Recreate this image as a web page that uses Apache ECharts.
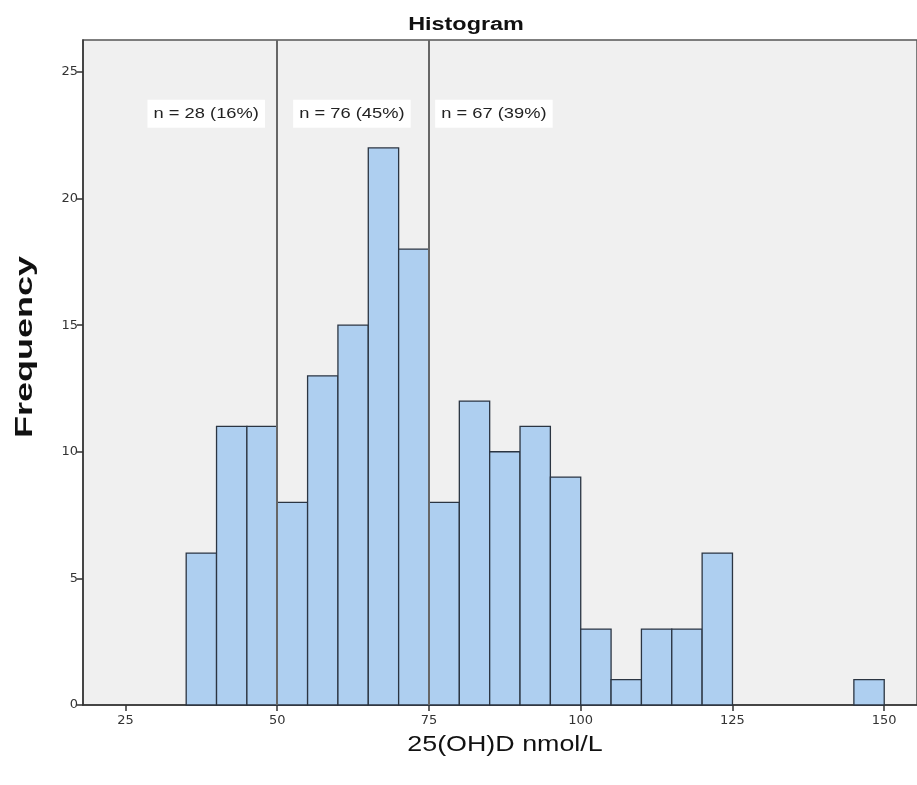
<!DOCTYPE html>
<html>
<head>
<meta charset="utf-8">
<script src="https://cdn.jsdelivr.net/npm/echarts@6/dist/echarts.min.js"></script>
<style>html,body{margin:0;padding:0;background:#fff;}#c{width:917px;height:785px;}</style>
</head>
<body>
<div id="c"></div>
<script>
var binStart = [35,40,45,50,55,60,65,70,75,80,85,90,95,100,105,110,115,120,145];
var binEnd   = [40,45,50,55,60,65,70,75,80,85,90,95,100,105,110,115,120,125,150];
var counts   = [6,11,11,8,13,15,22,18,8,12,10,11,9,3,1,3,3,6,1];
var xTicks = [25,50,75,100,125,150];
var yTicks = [0,5,10,15,20,25];
var cutoffs = [50,75];
var groupLabels = ['n = 28 (16%)','n = 76 (45%)','n = 67 (39%)'];
var groupLabelX = [38.3,62.3,85.7];
var groupLabelY = 23.35;
var titleText = 'Histogram';
var xName = '25(OH)D nmol/L';
var yName = 'Frequency';

var chart = echarts.init(document.getElementById('c'), null, {renderer:'canvas'});
var font = '"Liberation Sans", Arial, sans-serif';
var tickFont = '"DejaVu Sans", "Liberation Sans", sans-serif';
var histData = binStart.map(function(s,i){return [s, binEnd[i], counts[i]];});
var labelData = groupLabels.map(function(t,i){return {value:[groupLabelX[i], groupLabelY], name:t};});

chart.setOption({
  animation:false,
  backgroundColor:'#ffffff',
  grid:{left:83, top:40, right:-2, bottom:80, show:true, backgroundColor:'#f0f0f0',
    borderColor:'#555', borderWidth:1.5},
  xAxis:{type:'value', min:18, max:155.4,
    axisLine:{show:true, onZero:false, lineStyle:{color:'#333', width:1.5}},
    axisTick:{show:true, length:6, customValues:xTicks, lineStyle:{color:'#333', width:1.5}},
    axisLabel:{customValues:xTicks, fontFamily:tickFont, fontSize:13, color:'#333', margin:9},
    splitLine:{show:false}},
  yAxis:{type:'value', min:0, max:26.26,
    axisLine:{show:true, lineStyle:{color:'#333', width:1.5}},
    axisTick:{show:true, length:6, customValues:yTicks, lineStyle:{color:'#333', width:1.5}},
    axisLabel:{customValues:yTicks, fontFamily:tickFont, fontSize:13, color:'#333', margin:5},
    splitLine:{show:false}},
  graphic:[
    {type:'text', x:466, y:25, scaleX:1.3, z:100,
      style:{text:titleText, fontFamily:font, fontSize:18, fontWeight:'bold', fill:'#111',
        align:'center', verticalAlign:'middle'}},
    {type:'text', x:505, y:745, scaleX:1.22, z:100,
      style:{text:xName, fontFamily:font, fontSize:22, fill:'#111',
        align:'center', verticalAlign:'middle'}},
    {type:'text', x:25, y:347, rotation:Math.PI/2, scaleX:1.5, z:100,
      style:{text:yName, fontFamily:font, fontSize:24, fontWeight:'bold', fill:'#111',
        align:'center', verticalAlign:'middle'}}
  ],
  series:[
    {type:'custom', data:histData, z:2,
      renderItem:function(params, api){
        var p0 = api.coord([api.value(0), api.value(2)]);
        var p1 = api.coord([api.value(1), 0]);
        return {type:'rect',
          shape:{x:p0[0], y:p0[1], width:p1[0]-p0[0], height:p1[1]-p0[1]},
          style:{fill:'#aecff0', stroke:'#2b3542', lineWidth:1.3}};
      },
      markLine:{symbol:'none', silent:true, z:5,
        lineStyle:{color:'#666', width:2, type:'solid'},
        label:{show:false},
        data:cutoffs.map(function(v){return {xAxis:v};})}
    },
    {type:'custom', data:labelData, z:6,
      renderItem:function(params, api){
        var p = api.coord([api.value(0), api.value(1)]);
        return {type:'text', x:p[0], y:p[1], scaleX:1.22,
          style:{text:groupLabels[params.dataIndex], fontFamily:font, fontSize:15, fill:'#222',
            align:'center', verticalAlign:'middle', backgroundColor:'#ffffff',
            padding:[7,5,6,5]}};
      }
    }
  ]
});
</script>
</body>
</html>
